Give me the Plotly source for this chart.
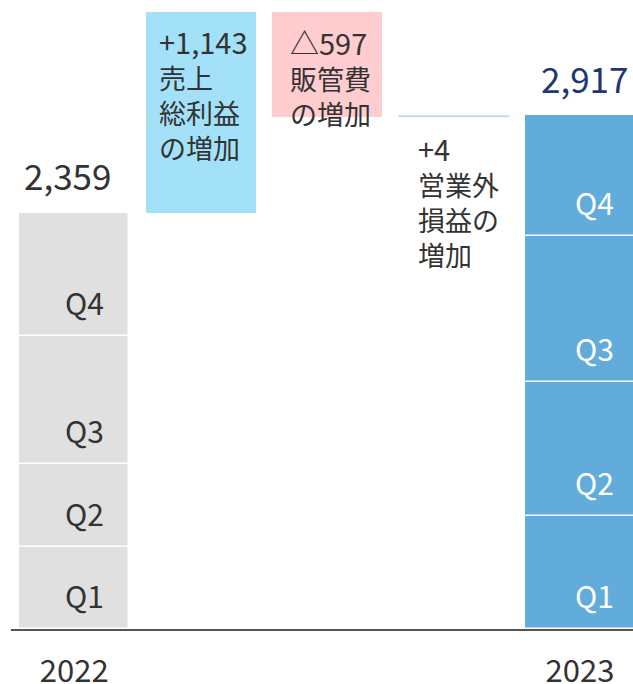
import plotly.graph_objects as go

# ---- data ----
categories = ["2022", "売上総利益", "販管費", "営業外", "2023"]
year_labels = ["2022", "", "", "", "2023"]
quarter_names = ["Q1", "Q2", "Q3", "Q4"]
q2022 = [467, 469, 728, 695]        # total 2,359
q2023 = [641, 762, 827, 687]        # total 2,917
total_2022 = 2359
total_2023 = 2917
gross_profit_change = 1143
sga_change = -597
nonop_change = 4
total_labels = ["2,359", "2,917"]
gp_lines = ["+1,143", "売上", "総利益", "の増加"]
sga_lines = ["△597", "販管費", "の増加"]
nonop_lines = ["+4", "営業外", "損益の", "増加"]

FONT = "Noto Sans CJK JP"
GRAY = "#e0e0e0"
LIGHTBLUE = "#a3e1f8"
PINK = "#ffcdd0"
BLUE = "#62acdb"
LINEBLUE = "#a8daf0"
TXT = "#333333"
NAVY = "#1f3670"
W = 0.87

fig = go.Figure()

# 2022 quarters
base = 0
for name, v in zip(quarter_names, q2022):
    fig.add_trace(go.Bar(x=[categories[0]], y=[v], base=[base], width=W,
                         marker=dict(color=GRAY, line=dict(color="white", width=1.5)),
                         showlegend=False, hoverinfo="skip"))
    base += v

# bridge items
gp_base = total_2022
fig.add_trace(go.Bar(x=[categories[1]], y=[gross_profit_change], base=[gp_base], width=W,
                     marker=dict(color=LIGHTBLUE, line=dict(width=0)),
                     showlegend=False, hoverinfo="skip"))
sga_top = gp_base + gross_profit_change
fig.add_trace(go.Bar(x=[categories[2]], y=[-sga_change], base=[sga_top + sga_change], width=W,
                     marker=dict(color=PINK, line=dict(width=0)),
                     showlegend=False, hoverinfo="skip"))
nonop_base = sga_top + sga_change
fig.add_trace(go.Bar(x=[categories[3]], y=[nonop_change], base=[nonop_base], width=W,
                     marker=dict(color=LINEBLUE, line=dict(color=LINEBLUE, width=0.6)),
                     showlegend=False, hoverinfo="skip"))

# 2023 quarters
base = 0
for name, v in zip(quarter_names, q2023):
    fig.add_trace(go.Bar(x=[categories[4]], y=[v], base=[base], width=W,
                         marker=dict(color=BLUE, line=dict(color="white", width=1.5)),
                         showlegend=False, hoverinfo="skip"))
    base += v

ann = []
# quarter labels
for ci, qs, col, xs in [(0, q2022, TXT, 32), (4, q2023, "white", 36)]:
    b = 0
    for name, v in zip(quarter_names, qs):
        ann.append(dict(x=ci, y=b, xref="x", yref="y", text=name,
                        showarrow=False, xanchor="right", yanchor="middle",
                        xshift=xs, yshift=34,
                        font=dict(family=FONT, size=30, color=col)))
        b += v

# totals
ann.append(dict(x=0, y=total_2022, xref="x", yref="y", text=total_labels[0], showarrow=False,
                xanchor="center", yanchor="middle", yshift=39, xshift=-7,
                font=dict(family=FONT, size=35, color=TXT)))
ann.append(dict(x=4, y=total_2023, xref="x", yref="y", text=total_labels[1], showarrow=False,
                xanchor="center", yanchor="middle", yshift=38, xshift=4,
                font=dict(family=FONT, size=35, color=NAVY)))

# change labels: one multi-line annotation each
PITCH = 33.8
for ci, lines, yref_val, first, xs in [(1, gp_lines, sga_top, 31, -44),
                                       (2, sga_lines, sga_top, 31, -39),
                                       (3, nonop_lines, nonop_base, 33, -38)]:
    txt = '<span style="font-size:29px">' + lines[0] + "</span><br>" + "<br>".join(lines[1:])
    mid = first + (len(lines) - 1) * PITCH / 2
    ann.append(dict(x=ci, y=yref_val, xref="x", yref="y", text=txt, showarrow=False,
                    xanchor="left", yanchor="middle", align="left",
                    xshift=xs, yshift=-mid,
                    font=dict(family=FONT, size=27, color=TXT)))

fig.update_layout(
    width=633, height=684,
    margin=dict(l=11, r=0, t=0, b=55, autoexpand=False),
    plot_bgcolor="white", paper_bgcolor="white",
    barmode="overlay", bargap=0,
    annotations=ann,
    font=dict(family=FONT, color=TXT),
)
fig.update_xaxes(type="category", categoryorder="array", categoryarray=categories,
                 range=[-0.5, 4.419], tickvals=categories, ticktext=year_labels,
                 showline=True, linecolor="#555555", linewidth=1.5,
                 showgrid=False, zeroline=False, ticks="", automargin=False,
                 tickfont=dict(family=FONT, size=31, color=TXT),
                 ticklabelstandoff=14)
fig.update_yaxes(range=[0, 3570], visible=False, showgrid=False, zeroline=False,
                 automargin=False)

fig.write_html("out.html", config={"displayModeBar": False},
               post_script="document.body.style.margin='0';document.body.style.overflow='hidden';")
